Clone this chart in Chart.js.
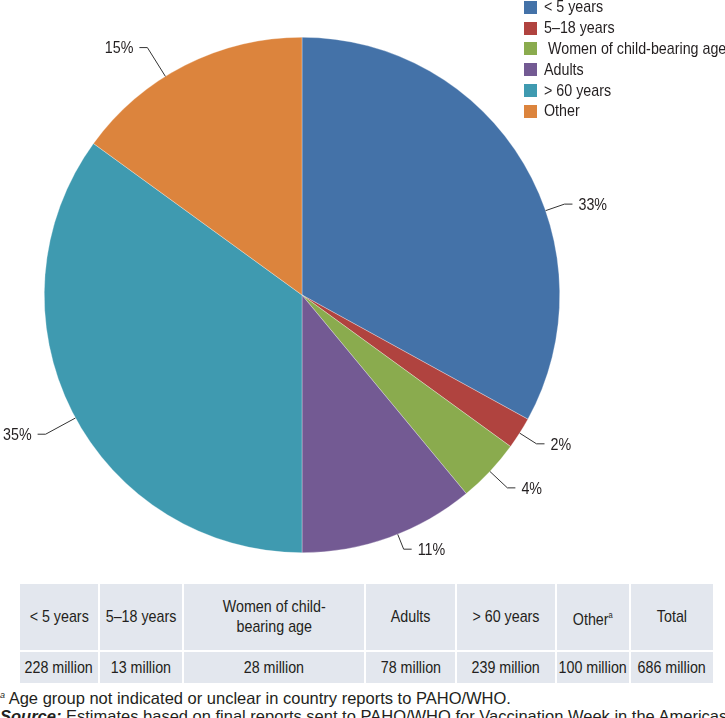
<!DOCTYPE html>
<html>
<head>
<meta charset="utf-8">
<script src="https://cdn.jsdelivr.net/npm/chart.js@4.4.1/dist/chart.umd.min.js"></script>
<style>
  html, body { margin: 0; padding: 0; background: #fff; overflow: hidden; }
  #wrap { position: relative; width: 725px; height: 718px; overflow: hidden;
    font-family: "Liberation Sans", Arial, sans-serif; color: #231f20; }
  #pie { position: absolute; left: 0; top: 0; }
  #legend { position: absolute; left: 524px; top: -3px; }
  .lg-row { display: flex; align-items: center; height: 20.8px; font-size: 17px; white-space: pre; }
  .lg-box { width: 13px; height: 13px; margin-right: 7px; flex: none; }
  .narrow { display: inline-block; transform: scaleX(0.84); white-space: pre; }
  .lg-row .narrow { transform-origin: left center; }
  #tbl { position: absolute; left: 18px; top: 582px; border-collapse: collapse; table-layout: fixed;
    background: #e3e7ee; font-size: 17px; }
  #tbl td { border: 2px solid #fff; padding: 0; line-height: 20px; }
  #tbl td .c { display: flex; justify-content: center; text-align: center; }
  #tbl tr.head td { height: 66px; }
  #tbl tr.vals td { height: 31px; }
  #tbl sup { font-size: 9px; }
  .note { position: absolute; left: 0; width: 725px; white-space: nowrap; font-size: 16.5px; }
  .note sup { font-size: 9px; font-style: italic; }
</style>
</head>
<body>
<div id="wrap">
  <canvas id="pie" width="725" height="570"></canvas>
  <div id="legend"></div>
  <table id="tbl"></table>
  <div class="note" style="top:689px"><sup>a</sup> Age group not indicated or unclear in country reports to PAHO/WHO.</div>
  <div class="note" style="top:707px"><b><i>Source:</i></b> Estimates based on final reports sent to PAHO/WHO for Vaccination Week in the Americas, 2013.</div>
</div>
<script>
// slices, in percent of the vaccinated population
const categories = ['< 5 years', '5\u201318 years', ' Women of child-bearing age', 'Adults', '> 60 years', 'Other'];
const shares = [33, 2, 4, 11, 35, 15];
const sliceColors = ['#4472a8', '#b0433f', '#8aab4e', '#735a93', '#3f9ab0', '#dc843d'];

// table under the pie
const tableHeads = ['< 5 years', '5\u201318 years', 'Women of child-<br>bearing age', 'Adults', '> 60 years', 'Other<sup>a</sup>', 'Total'];
const tableValues = ['228 million', '13 million', '28 million', '78 million', '239 million', '100 million', '686 million'];
const colWidths = [80, 84, 182, 91, 100, 74, 84];

// label placement tweaks so labels sit where the original had them
const labelNudge = [11.5, 0, 0, -2, -1.5, -5];   // degrees
const labelReach = [20, 20, 24, 16, 34, 34];     // px beyond the rim

const NARROW = 0.84;
const FONT = '17px "Liberation Sans", Arial, sans-serif';

const leaderLabels = {
  id: 'leaderLabels',
  afterDraw(chart) {
    const ctx = chart.ctx;
    const arcs = chart.getDatasetMeta(0).data;
    ctx.save();
    ctx.font = FONT;
    ctx.strokeStyle = '#333';
    ctx.fillStyle = '#231f20';
    ctx.lineWidth = 1;
    ctx.textBaseline = 'middle';
    arcs.forEach((arc, i) => {
      const { x, y, startAngle, endAngle, outerRadius } = arc.getProps(['x', 'y', 'startAngle', 'endAngle', 'outerRadius'], true);
      const a = (startAngle + endAngle) / 2 + labelNudge[i] * Math.PI / 180;
      const cos = Math.cos(a), sin = Math.sin(a);
      const x0 = x + outerRadius * cos, y0 = y + outerRadius * sin;
      const r1 = outerRadius + labelReach[i];
      const x1 = x + r1 * cos, y1 = y + r1 * sin;
      const dir = cos >= 0 ? 1 : -1;
      const x2 = x1 + dir * 8;
      ctx.beginPath();
      ctx.moveTo(x0, y0);
      ctx.lineTo(x1, y1);
      ctx.lineTo(x2, y1);
      ctx.stroke();
      ctx.save();
      ctx.translate(x2 + dir * 6, y1);
      ctx.scale(NARROW, 1);
      ctx.textAlign = dir > 0 ? 'left' : 'right';
      ctx.fillText(shares[i] + '%', 0, 1);
      ctx.restore();
    });
    ctx.restore();
  }
};

const chart = new Chart(document.getElementById('pie'), {
  type: 'pie',
  data: {
    labels: categories,
    datasets: [{
      data: shares,
      backgroundColor: sliceColors,
      borderColor: 'rgba(255,255,255,0.6)',
      borderWidth: 0.5
    }]
  },
  options: {
    responsive: false,
    animation: false,
    layout: { padding: { left: 44, top: 37, right: 165, bottom: 17 } },
    plugins: {
      legend: { display: false },
      tooltip: { enabled: false }
    }
  },
  plugins: [leaderLabels]
});

// legend from the chart's own legend items
const legendEl = document.getElementById('legend');
chart.options.plugins.legend.labels.generateLabels(chart).forEach(item => {
  const row = document.createElement('div');
  row.className = 'lg-row';
  row.innerHTML = '<span class="lg-box" style="background:' + item.fillStyle + '"></span>';
  const t = document.createElement('span');
  t.className = 'narrow';
  t.textContent = item.text;
  row.appendChild(t);
  legendEl.appendChild(row);
});

// table
const tbl = document.getElementById('tbl');
const cg = document.createElement('colgroup');
colWidths.forEach(w => { const c = document.createElement('col'); c.style.width = w + 'px'; cg.appendChild(c); });
tbl.appendChild(cg);
tbl.style.width = colWidths.reduce((s, w) => s + w, 0) + 'px';
const hr = tbl.insertRow(); hr.className = 'head';
tableHeads.forEach(h => { hr.insertCell().innerHTML = '<div class="c"><span class="narrow">' + h + '</span></div>'; });
const vr = tbl.insertRow(); vr.className = 'vals';
tableValues.forEach(v => { vr.insertCell().innerHTML = '<div class="c"><span class="narrow">' + v + '</span></div>'; });
</script>
</body>
</html>
